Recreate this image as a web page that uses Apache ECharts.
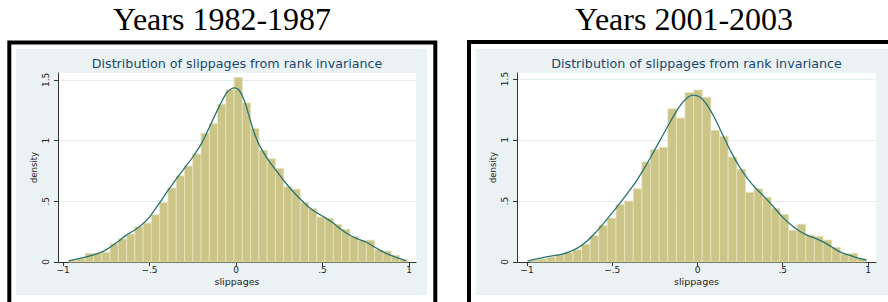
<!DOCTYPE html>
<html><head><meta charset="utf-8">
<script src="https://cdn.jsdelivr.net/npm/echarts@6/dist/echarts.min.js"></script>
<style>html,body{margin:0;padding:0;background:#fff}#c{width:888px;height:302px}</style>
</head><body><div id="c"></div>
<script>
// ---------- data ----------
const panelTitles = ['Years 1982-1987', 'Years 2001-2003'];
const plotTitle = 'Distribution of slippages from rank invariance';
const xAxisTitle = 'slippages';
const yAxisTitle = 'density';
const xTicks = [-1, -0.5, 0, 0.5, 1];
const xTickLabels = ['\u22121', '\u2212.5', '0', '.5', '1'];
const yTicks = [0, 0.5, 1, 1.5];
const yTickLabels = ['0', '.5', '1', '1.5'];

// histogram 1982-1987
const leftBinStart = -0.967;
const leftBinWidth = 0.0478;
const leftHeights = [0.014, 0.027, 0.071, 0.071, 0.08, 0.15, 0.19, 0.23, 0.29, 0.32,
  0.39, 0.49, 0.61, 0.71, 0.79, 0.89, 1.06, 1.14, 1.30, 1.42,
  1.52, 1.31, 1.10, 0.92, 0.85, 0.77, 0.62, 0.60, 0.49, 0.44,
  0.37, 0.36, 0.31, 0.27, 0.21, 0.18, 0.18, 0.10, 0.09, 0.055, 0.02];
// kernel density 1982-1987
const leftCurveX = [-0.967, -0.871, -0.78, -0.74, -0.69, -0.64, -0.59, -0.55, -0.50, -0.45, -0.40, -0.35,
  -0.30, -0.25, -0.20, -0.154, -0.106, -0.058, -0.029, -0.006, 0.018, 0.047, 0.076, 0.105, 0.134,
  0.182, 0.231, 0.279, 0.327, 0.367, 0.414, 0.462, 0.51, 0.558, 0.606, 0.654, 0.703, 0.751, 0.799,
  0.847, 0.895, 0.944, 0.982];
const leftCurveY = [0.01, 0.04, 0.08, 0.11, 0.16, 0.215, 0.26, 0.30, 0.37, 0.47, 0.575, 0.675,
  0.77, 0.865, 0.975, 1.11, 1.255, 1.385, 1.425, 1.434, 1.415, 1.335, 1.2, 1.065, 0.965,
  0.85, 0.755, 0.665, 0.585, 0.525, 0.46, 0.41, 0.37, 0.325, 0.27, 0.225, 0.19, 0.165, 0.125,
  0.085, 0.055, 0.03, 0.01];

// histogram 2001-2003
const rightBinStart = -0.984;
const rightBinWidth = 0.0506;
const rightHeights = [0.016, 0.025, 0.04, 0.06, 0.077, 0.10, 0.145, 0.215, 0.30, 0.36,
  0.47, 0.50, 0.60, 0.82, 0.92, 0.94, 1.255, 1.18, 1.39, 1.41,
  1.35, 1.08, 1.03, 0.86, 0.76, 0.57, 0.60, 0.53, 0.44, 0.39,
  0.26, 0.31, 0.22, 0.21, 0.18, 0.12, 0.066, 0.07, 0.03];
// kernel density 2001-2003
const rightCurveX = [-0.997, -0.896, -0.798, -0.749, -0.70, -0.651, -0.602, -0.553, -0.504, -0.456, -0.407,
  -0.358, -0.309, -0.26, -0.211, -0.162, -0.113, -0.065, -0.025, 0.014, 0.053, 0.102, 0.151, 0.199,
  0.248, 0.297, 0.346, 0.395, 0.444, 0.493, 0.541, 0.59, 0.639, 0.688, 0.737, 0.786, 0.835, 0.884,
  0.933, 0.991];
const rightCurveY = [0.008, 0.04, 0.063, 0.085, 0.118, 0.168, 0.236, 0.313, 0.396, 0.48, 0.57,
  0.665, 0.775, 0.896, 1.02, 1.143, 1.26, 1.34, 1.368, 1.352, 1.294, 1.176, 1.033, 0.896,
  0.775, 0.678, 0.598, 0.53, 0.455, 0.376, 0.313, 0.26, 0.223, 0.195, 0.165, 0.125, 0.083, 0.058,
  0.036, 0.016];

// ---------- layout / style ----------
const BG = '#EAF2F3';
const BAR = '#CCC588';
const BAR_EDGE = '#E6E2BC';
const CURVE = '#2A7473';
const TITLE_C = '#1A476F';
const AXIS_C = '#333333';
const SANS = '"DejaVu Sans", sans-serif';

const grids = [
  {left: 58, top: 73, width: 358, height: 189},
  {left: 517, top: 73, width: 359, height: 189}
];
const xRanges = [[-1.029, 1.0405], [-1.0587, 1.047]];
const yMaxes = [1.557, 1.549];

function binData(start, width, heights) {
  return heights.map((h, i) => [start + i * width, start + (i + 1) * width, h]);
}
function pairs(xs, ys) { return xs.map((x, i) => [x, ys[i]]); }

function labelFor(ticks, labels) {
  return v => { const i = ticks.findIndex(t => Math.abs(t - v) < 1e-6); return i >= 0 ? labels[i] : ''; };
}

const chart = echarts.init(document.getElementById('c'), null, {renderer: 'svg'});

const xAxes = [], yAxes = [], series = [];
for (let k = 0; k < 2; k++) {
  xAxes.push({
    type: 'value', gridIndex: k, min: xRanges[k][0], max: xRanges[k][1], position: 'bottom',
    name: xAxisTitle, nameLocation: 'middle', nameGap: 14, nameMoveOverlap: false,
    nameTextStyle: {fontFamily: SANS, fontSize: 9.5, color: '#222'},
    axisLine: {show: true, onZero: false, lineStyle: {color: AXIS_C, width: 1}},
    axisTick: {show: true, length: 4, customValues: xTicks, lineStyle: {color: AXIS_C}},
    axisLabel: {customValues: xTicks, formatter: labelFor(xTicks, xTickLabels), margin: 3,
      fontFamily: SANS, fontSize: 9, color: '#222'},
    splitLine: {show: false}
  });
  yAxes.push({
    type: 'value', gridIndex: k, min: 0, max: yMaxes[k], interval: 0.5, position: 'left',
    name: yAxisTitle, nameLocation: 'middle', nameGap: 20, nameRotate: 90, nameMoveOverlap: false,
    nameTextStyle: {fontFamily: SANS, fontSize: 8.5, color: '#222'},
    axisLine: {show: true, onZero: false, lineStyle: {color: AXIS_C, width: 1}},
    axisTick: {show: true, length: 4, customValues: yTicks, lineStyle: {color: AXIS_C}},
    axisLabel: {customValues: yTicks, formatter: labelFor(yTicks, yTickLabels), rotate: 90, margin: 8,
      fontFamily: SANS, fontSize: 9, color: '#222'},
    splitLine: {show: true, lineStyle: {color: '#E3ECEE', width: 1}}
  });
}

const hist = [binData(leftBinStart, leftBinWidth, leftHeights), binData(rightBinStart, rightBinWidth, rightHeights)];
const curves = [pairs(leftCurveX, leftCurveY), pairs(rightCurveX, rightCurveY)];

for (let k = 0; k < 2; k++) {
  series.push({
    type: 'custom', xAxisIndex: k, yAxisIndex: k, data: hist[k],
    renderItem: (params, api) => {
      const p0 = api.coord([api.value(0), api.value(2)]);
      const p1 = api.coord([api.value(1), 0]);
      return {type: 'rect', shape: {x: p0[0], y: p0[1], width: p1[0] - p0[0], height: p1[1] - p0[1]},
        style: {fill: BAR, stroke: BAR_EDGE, lineWidth: 0.8}};
    },
    z: 2
  });
  series.push({
    type: 'line', xAxisIndex: k, yAxisIndex: k, data: curves[k], smooth: 0.3,
    showSymbol: false, lineStyle: {color: CURVE, width: 1.3}, z: 3
  });
}

const graphics = [
  // panel backgrounds
  {type: 'rect', shape: {x: 16, y: 49, width: 411, height: 246}, style: {fill: BG}, z: -10},
  {type: 'rect', shape: {x: 476, y: 49, width: 420, height: 246}, style: {fill: BG}, z: -10},
  // frames
  {type: 'rect', shape: {x: 9.3, y: 42.5, width: 426, height: 320}, style: {fill: 'none', stroke: '#000', lineWidth: 4}, z: -5},
  {type: 'rect', shape: {x: 469, y: 42, width: 440, height: 320}, style: {fill: 'none', stroke: '#000', lineWidth: 4}, z: -5},
  // panel titles
  {type: 'text', x: 222, y: 18.5, style: {text: panelTitles[0], font: '32px "Liberation Serif", serif', fill: '#000', align: 'center', verticalAlign: 'middle'}},
  {type: 'text', x: 684, y: 18.5, style: {text: panelTitles[1], font: '32px "Liberation Serif", serif', fill: '#000', align: 'center', verticalAlign: 'middle'}},
  // plot titles
  {type: 'text', x: 237, y: 63, style: {text: plotTitle, font: '12.7px ' + SANS, fill: TITLE_C, align: 'center', verticalAlign: 'middle'}},
  {type: 'text', x: 696.5, y: 63, style: {text: plotTitle, font: '12.7px ' + SANS, fill: TITLE_C, align: 'center', verticalAlign: 'middle'}}
];

chart.setOption({
  animation: false,
  backgroundColor: '#fff',
  grid: grids.map(g => Object.assign({show: true, backgroundColor: '#fff', borderWidth: 0, containLabel: false}, g)),
  xAxis: xAxes, yAxis: yAxes, series: series, graphic: graphics
});
</script></body></html>
